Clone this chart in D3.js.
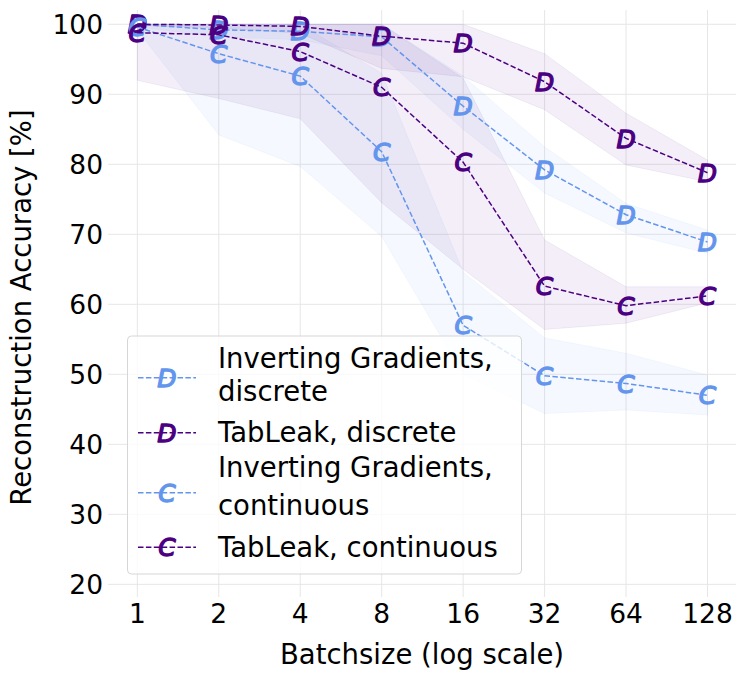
<!DOCTYPE html>
<html>
<head>
<meta charset="utf-8">
<script src="https://cdn.jsdelivr.net/npm/d3@7"></script>
<style>
  body { margin: 0; background: #fff; }
  text { font-family: "DejaVu Sans", sans-serif; }
</style>
</head>
<body>
<div id="display"></div>
<script>
// batch sizes on the x axis
let batchSizes = [1, 2, 4, 8, 16, 32, 64, 128];
let yTicks = [20, 30, 40, 50, 60, 70, 80, 90, 100];

// Inverting Gradients, discrete
let igDiscMean = [100, 99.2, 99.0, 98.2, 88.3, 79.2, 72.8, 68.9];
let igDiscLow  = [99.6, 98.2, 97.8, 95.5, 85.0, 75.9, 70.2, 67.3];
let igDiscHigh = [100, 100, 100, 100, 92.6, 82.5, 74.4, 70.6];

// TabLeak, discrete
let tlDiscMean = [100, 99.9, 99.7, 98.3, 97.3, 91.8, 83.7, 78.8];
let tlDiscLow  = [99.8, 99.5, 98.7, 93.7, 92.5, 87.8, 79.9, 77.5];
let tlDiscHigh = [100, 100, 100, 100, 100, 95.8, 87.3, 80.6];

// Inverting Gradients, continuous
let igContMean = [99.6, 95.8, 92.6, 81.8, 57.0, 49.8, 48.7, 47.0];
let igContLow  = [99.2, 84.2, 79.7, 69.7, 50.0, 44.4, 44.9, 44.2];
let igContHigh = [100, 100, 100, 93.0, 64.6, 55.2, 53.0, 49.9];

// TabLeak, continuous
let tlContMean = [98.8, 98.5, 96.1, 91.0, 80.3, 62.6, 59.8, 61.2];
let tlContLow  = [92.0, 89.4, 86.5, 74.5, 65.0, 56.4, 57.3, 60.2];
let tlContHigh = [100, 100, 100, 100, 92.3, 69.2, 62.5, 62.5];

let seriesNames = ["Inverting Gradients,\ndiscrete", "TabLeak, discrete",
                   "Inverting Gradients,\ncontinuous", "TabLeak, continuous"];
let seriesMarks = ["D", "D", "C", "C"];

let blue = "#6495ed", purple = "#4b0082";

// build the series list from the arrays above
let series = [
  {name: seriesNames[0], mark: seriesMarks[0], color: blue,   mean: igDiscMean, lo: igDiscLow, hi: igDiscHigh},
  {name: seriesNames[1], mark: seriesMarks[1], color: purple, mean: tlDiscMean, lo: tlDiscLow, hi: tlDiscHigh},
  {name: seriesNames[2], mark: seriesMarks[2], color: blue,   mean: igContMean, lo: igContLow, hi: igContHigh},
  {name: seriesNames[3], mark: seriesMarks[3], color: purple, mean: tlContMean, lo: tlContLow, hi: tlContHigh}
];

let width = 747, height = 680;
let plotLeft = 108, plotRight = 736, plotTop = 10, plotBottom = 597;

let svg = d3.select("#display").append("svg").attr("width", width).attr("height", height);
svg.append("rect").attr("width", width).attr("height", height).attr("fill", "#fff");

let x = d3.scaleLog().base(2).domain([Math.pow(2, -0.36), Math.pow(2, 7.35)]).range([plotLeft, plotRight]);
let y = d3.scaleLinear().domain([18.19, 102.04]).range([plotBottom, plotTop]);

// grid
let grid = svg.append("g");
grid.selectAll("line.h").data(yTicks).enter().append("line")
  .attr("x1", plotLeft).attr("x2", plotRight)
  .attr("y1", d => y(d)).attr("y2", d => y(d))
  .attr("stroke", "#e6e6e6").attr("stroke-width", 1);
grid.selectAll("line.v").data(batchSizes).enter().append("line")
  .attr("x1", d => x(d)).attr("x2", d => x(d))
  .attr("y1", plotTop).attr("y2", plotBottom)
  .attr("stroke", "#e6e6e6").attr("stroke-width", 1);

// tick labels
svg.append("g").selectAll("text").data(yTicks).enter().append("text")
  .attr("x", plotLeft - 5).attr("y", d => y(d) + 9.6)
  .attr("text-anchor", "end").attr("font-size", 26.5)
  .text(d => d);
svg.append("g").selectAll("text").data(batchSizes).enter().append("text")
  .attr("x", d => x(d)).attr("y", 623)
  .attr("text-anchor", "middle").attr("font-size", 26.5)
  .text(d => d);

// axis titles
svg.append("text").attr("x", (plotLeft + plotRight) / 2).attr("y", 664)
  .attr("text-anchor", "middle").attr("font-size", 27.5)
  .text("Batchsize (log scale)");
svg.append("text").attr("transform", "translate(31," + ((plotTop + plotBottom) / 2 + 4) + ") rotate(-90)")
  .attr("text-anchor", "middle").attr("font-size", 27.5)
  .text("Reconstruction Accuracy [%]");

// std bands first so lines sit on top
let area = d3.area()
  .x((d, i) => x(batchSizes[i]))
  .y0(d => y(d[0])).y1(d => y(d[1]));

let bands = svg.append("g");
series.forEach(function(s) {
  let pts = s.lo.map((v, i) => [v, s.hi[i]]);
  bands.append("path").attr("d", area(pts))
    .attr("fill", s.color).attr("fill-opacity", 0.065)
    .attr("stroke", s.color).attr("stroke-opacity", 0.06).attr("stroke-width", 1);
});

let line = d3.line().x((d, i) => x(batchSizes[i])).y(d => y(d));
let markSize = 25;

// letter markers, like matplotlib's "$D$" / "$C$"
function drawMark(g, cx, cy, mark, color) {
  g.append("text").attr("x", cx).attr("y", cy + markSize * 0.729 / 2)
    .attr("text-anchor", "middle")
    .attr("font-size", markSize).attr("font-style", "oblique")
    .attr("fill", color).attr("stroke", color).attr("stroke-width", 1.3)
    .attr("stroke-linejoin", "round")
    .text(mark);
}

series.forEach(function(s) {
  let g = svg.append("g");
  g.append("path").attr("d", line(s.mean))
    .attr("fill", "none").attr("stroke", s.color).attr("stroke-width", 1.5)
    .attr("stroke-dasharray", "5.5,2.4");
  s.mean.forEach((v, i) => drawMark(g, x(batchSizes[i]), y(v), s.mark, s.color));
});

// legend
let lg = svg.append("g");
lg.append("rect").attr("x", 127.5).attr("y", 336).attr("width", 394).attr("height", 238)
  .attr("rx", 4).attr("fill", "#fff").attr("fill-opacity", 0.8)
  .attr("stroke", "#d6d6d6").attr("stroke-width", 1);

let handleY = [377.7, 432.7, 492.7, 547.3];
let textY = [[368, 401], [441.7], [476.7, 515], [556.7]];
series.forEach(function(s, i) {
  lg.append("line").attr("x1", 138).attr("x2", 196)
    .attr("y1", handleY[i]).attr("y2", handleY[i])
    .attr("stroke", s.color).attr("stroke-width", 1.5).attr("stroke-dasharray", "5.5,2.4");
  drawMark(lg, 167, handleY[i], s.mark, s.color);
  s.name.split("\n").forEach(function(t, j) {
    lg.append("text").attr("x", 218).attr("y", textY[i][j])
      .attr("font-size", 27.5).text(t);
  });
});
</script>
</body>
</html>
